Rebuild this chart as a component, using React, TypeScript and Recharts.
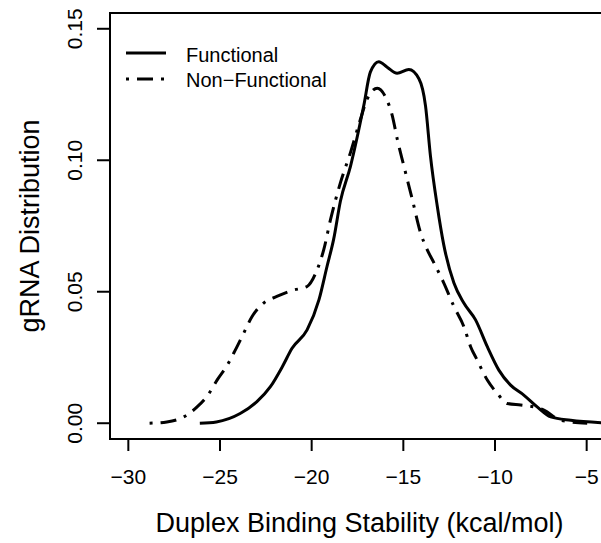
import { LineChart, Line, XAxis, YAxis, ReferenceArea, Legend } from 'recharts';

const FONT = '"Liberation Sans", Arial, Helvetica, sans-serif';

// density curves (x in kcal/mol, y density)
const functionalX = [
  -26.1, -25.2, -23.9, -23.0, -22.25, -21.6, -21.07, -20.25, -19.6, -19.16, -18.8, -18.43, -17.88,
  -17.16, -16.8, -16.34, -15.88, -15.34, -14.7, -14.15, -13.79, -13.52, -13.15, -12.8, -12.24, -11.7,
  -11.06, -10.42, -9.79, -9.15, -8.43, -7.7, -6.96, -5.87, -4.2,
];
const functionalY = [
  0, 0.0005, 0.0037, 0.0081, 0.0139, 0.0215, 0.0285, 0.0355, 0.047, 0.0597, 0.07, 0.0845, 0.0978,
  0.1207, 0.1335, 0.1375, 0.1354, 0.1331, 0.1345, 0.131, 0.1207, 0.1016, 0.0826, 0.068, 0.0533, 0.0457,
  0.0393, 0.0291, 0.0202, 0.0145, 0.0107, 0.0062, 0.0024, 0.0011, 0.0002,
];

const nonFunctionalX = [
  -28.84, -27.9, -26.98, -26.25, -25.6, -25.16, -24.6, -24.16, -23.71, -23.25, -22.62, -21.9, -21.07,
  -20.25, -19.7, -19.34, -18.97, -18.43, -17.88, -17.34, -16.97, -16.42, -15.92, -15.6, -15.33, -14.97,
  -14.51, -14.06, -13.7, -13.33, -12.79, -12.24, -11.7, -11.33, -10.97, -10.42, -9.87, -9.33, -8.6,
  -7.88, -7.33, -6.42, -4.97,
];
const nonFunctionalY = [
  0, 0.0005, 0.0024, 0.0062, 0.0113, 0.0164, 0.0221, 0.0279, 0.0342, 0.0406, 0.0457, 0.0482, 0.0505,
  0.052, 0.0584, 0.066, 0.0775, 0.0915, 0.103, 0.1156, 0.1233, 0.1274, 0.1233, 0.1169, 0.108, 0.0978,
  0.0851, 0.0724, 0.066, 0.061, 0.0533, 0.0444, 0.0368, 0.0291, 0.024, 0.0164, 0.0113, 0.0075, 0.0069,
  0.0062, 0.005, 0.0011, 0,
];

const xTicks = [-30, -25, -20, -15, -10, -5];
const yTicks = [0, 0.05, 0.1, 0.15];
const yTickLabels = ['0.00', '0.05', '0.10', '0.15'];

const X_DOMAIN: [number, number] = [-31, -4];
const Y_DOMAIN: [number, number] = [-0.006, 0.156];
const DASH_DOT = '3 8 16 8';

const functional = functionalX.map((x, i) => ({ x, y: functionalY[i] }));
const nonFunctional = nonFunctionalX.map((x, i) => ({ x, y: nonFunctionalY[i] }));

const XTick = ({ x, y, payload }: any) => (
  <text x={x} y={y + 31} textAnchor="middle" fontSize={21} fontFamily={FONT} fill="#000">
    {payload.value < 0 ? `\u2212${Math.abs(payload.value)}` : payload.value}
  </text>
);

const YTick = ({ x, y, payload }: any) => {
  const idx = yTicks.indexOf(payload.value);
  return (
    <text
      x={x - 13}
      y={y}
      transform={`rotate(-90, ${x - 13}, ${y})`}
      textAnchor="middle"
      fontSize={21}
      fontFamily={FONT}
      fill="#000"
    >
      {idx >= 0 ? yTickLabels[idx] : payload.value}
    </text>
  );
};

const renderLegend = () => (
  <svg width={240} height={60}>
    <line x1={6} y1={18} x2={46} y2={18} stroke="#000" strokeWidth={3} />
    <line x1={6} y1={44} x2={46} y2={44} stroke="#000" strokeWidth={3} strokeDasharray={DASH_DOT} />
    <text x={66} y={27} fontSize={20} fontFamily={FONT} fill="#000">Functional</text>
    <text x={66} y={52} fontSize={20} fontFamily={FONT} fill="#000">Non{'\u2212'}Functional</text>
  </svg>
);

export default function App() {
  return (
    <div style={{ position: 'absolute', left: 0, top: 0, background: '#fff' }}>
      <LineChart width={601} height={543} margin={{ top: 13, right: -4, left: 0, bottom: 0 }}>
        <XAxis
          type="number"
          dataKey="x"
          domain={X_DOMAIN}
          ticks={xTicks}
          allowDataOverflow
          axisLine={false}
          tickSize={12}
          tickLine={{ stroke: '#000', strokeWidth: 2 }}
          tick={<XTick />}
          height={104}
          label={(props: any) => {
            const vb = props.viewBox;
            return (
              <text
                x={vb.x + vb.width / 2 + 2}
                y={vb.y + 93}
                textAnchor="middle"
                fontSize={27}
                fontFamily={FONT}
                fill="#000"
              >
                Duplex Binding Stability (kcal/mol)
              </text>
            );
          }}
        />
        <YAxis
          type="number"
          dataKey="y"
          domain={Y_DOMAIN}
          ticks={yTicks}
          allowDataOverflow
          axisLine={false}
          tickSize={13}
          tickLine={{ stroke: '#000', strokeWidth: 2 }}
          tick={<YTick />}
          width={110}
          label={(props: any) => {
            const vb = props.viewBox;
            const cx = 39;
            const cy = vb.y + vb.height / 2;
            return (
              <text
                x={cx}
                y={cy}
                transform={`rotate(-90, ${cx}, ${cy})`}
                textAnchor="middle"
                fontSize={27}
                fontFamily={FONT}
                fill="#000"
              >
                gRNA Distribution
              </text>
            );
          }}
        />
        <ReferenceArea
          x1={X_DOMAIN[0]}
          x2={X_DOMAIN[1]}
          y1={Y_DOMAIN[0]}
          y2={Y_DOMAIN[1]}
          fill="none"
          fillOpacity={0}
          stroke="#000"
          strokeWidth={2}
        />
        <Legend
          layout="vertical"
          align="center"
          verticalAlign="middle"
          content={renderLegend}
          wrapperStyle={{ left: 120, top: 35, width: 240, height: 60 }}
        />
        <Line
          data={functional}
          dataKey="y"
          name="Functional"
          type="monotone"
          stroke="#000"
          strokeWidth={3}
          dot={false}
          isAnimationActive={false}
        />
        <Line
          data={nonFunctional}
          dataKey="y"
          name="Non-Functional"
          type="monotone"
          stroke="#000"
          strokeWidth={3}
          strokeDasharray={DASH_DOT}
          dot={false}
          isAnimationActive={false}
        />
      </LineChart>
    </div>
  );
}
